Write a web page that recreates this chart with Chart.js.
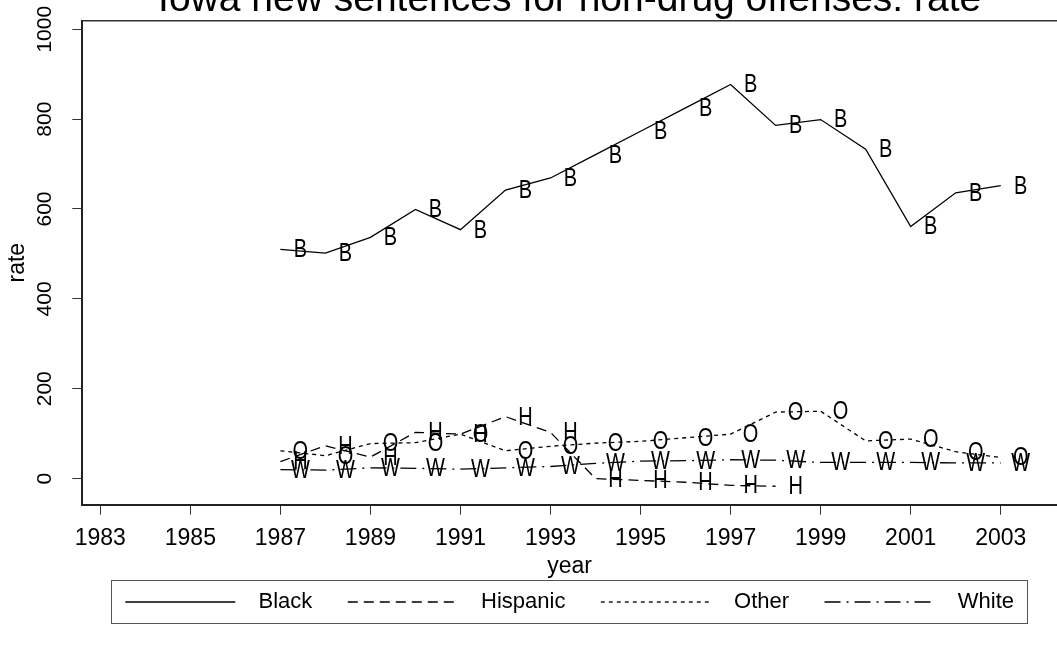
<!DOCTYPE html>
<html>
<head>
<meta charset="utf-8">
<title>Iowa new sentences for non-drug offenses: rate</title>
<script src="https://cdn.jsdelivr.net/npm/chart.js@4.4.1/dist/chart.umd.min.js"></script>
<style>
  html, body { margin: 0; padding: 0; background: #fff; }
</style>
</head>
<body>
<canvas id="rateChart" width="1057" height="648"></canvas>
<script>
// values
const years = [1987, 1988, 1989, 1990, 1991, 1992, 1993, 1994, 1995, 1996, 1997, 1998, 1999, 2000, 2001, 2002, 2003];
const hispYears = [1987, 1988, 1989, 1990, 1991, 1992, 1993, 1994, 1995, 1996, 1997, 1998];
const black = [510, 502, 537, 599, 554, 642, 669, 721, 773, 825, 877, 786, 799, 733, 561, 636, 652];
const hispanic = [38, 73, 48, 103, 99, 138, 103, 0, -4, -8, -15, -17];
const other = [62, 51, 78, 80, 99, 62, 72, 79, 83, 91, 99, 148, 150, 84, 88, 60, 47];
const white = [20, 19, 24, 23, 21, 24, 27, 34, 39, 40, 42, 41, 36, 36, 36, 35, 35];
const xTicks = [1983, 1985, 1987, 1989, 1991, 1993, 1995, 1997, 1999, 2001, 2003];
const yTicks = [0, 200, 400, 600, 800, 1000];
const seriesNames = ["Black", "Hispanic", "Other", "White"];
const markerLetters = ["B", "H", "O", "W"];

const FONT = '"Liberation Sans", Arial, Helvetica, sans-serif';

function pts(xs, ys) {
    return xs.map(function(x, i) { return {x: x, y: ys[i]}; });
}

const dashes = [[], [10, 6], [4, 4], [16, 6, 2, 6]];
const seriesData = [pts(years, black), pts(hispYears, hispanic), pts(years, other), pts(years, white)];

// letters next to every point, like mlabel() in stata (squeezed a bit, stata font is narrow)
const markerLabels = {
    id: 'markerLabels',
    afterDatasetsDraw(chart) {
        const ctx = chart.ctx;
        ctx.save();
        ctx.fillStyle = '#000';
        ctx.font = '25px ' + FONT;
        ctx.textAlign = 'center';
        ctx.textBaseline = 'middle';
        chart.data.datasets.forEach(function(ds, i) {
            const meta = chart.getDatasetMeta(i);
            meta.data.forEach(function(pt) {
                ctx.save();
                ctx.translate(pt.x + 20, pt.y + 1);
                ctx.scale(0.8, 1);
                ctx.fillText(markerLetters[i], 0, 0);
                ctx.restore();
            });
        });
        ctx.restore();
    }
};

// top line of the plot region + box round the legend
const frame = {
    id: 'frame',
    afterDraw(chart) {
        const ctx = chart.ctx;
        const a = chart.chartArea;
        ctx.save();
        ctx.strokeStyle = '#333';
        ctx.lineWidth = 1.5;
        ctx.beginPath();
        ctx.moveTo(a.left, a.top);
        ctx.lineTo(a.right, a.top);
        ctx.stroke();

        const lg = chart.legend;
        const boxes = lg.legendHitBoxes;
        if (boxes && boxes.length) {
            const first = boxes[0];
            const last = boxes[boxes.length - 1];
            const x0 = first.left - 14;
            const x1 = last.left + last.width + 13;
            ctx.strokeStyle = '#555';
            ctx.lineWidth = 1;
            ctx.strokeRect(Math.round(x0) + 0.5, Math.round(lg.top) + 0.5, Math.round(x1 - x0), Math.round(lg.bottom - lg.top));
        }
        ctx.restore();
    }
};

const ctx = document.getElementById('rateChart').getContext('2d');
const rateChart = new Chart(ctx, {
    type: 'line',
    data: {
        datasets: seriesNames.map(function(name, i) {
            return {
                label: name,
                data: seriesData[i],
                borderColor: '#000',
                backgroundColor: '#000',
                borderWidth: 1.3,
                borderDash: dashes[i],
                pointRadius: 0,
                pointHoverRadius: 0,
                tension: 0,
                fill: false
            };
        })
    },
    options: {
        responsive: false,
        animation: false,
        devicePixelRatio: 1,
        layout: { padding: { left: 0, right: 0, top: 0, bottom: 25 } },
        scales: {
            x: {
                type: 'linear',
                min: 1982.6,
                max: 2004.25,
                afterBuildTicks: function(scale) {
                    scale.ticks = xTicks.map(function(v) { return {value: v}; });
                },
                afterFit: function(scale) { scale.height = 75.3; },
                grid: { display: true, drawOnChartArea: false, drawTicks: true, tickLength: 10, color: '#333', lineWidth: 1 },
                border: { display: true, color: '#222', width: 2 },
                ticks: {
                    color: '#000',
                    font: { family: FONT, size: 23, lineHeight: 1 },
                    padding: 12,
                    maxRotation: 0,
                    autoSkip: false,
                    callback: function(v) { return String(v); }
                },
                title: {
                    display: true,
                    text: 'year',
                    color: '#000',
                    font: { family: FONT, size: 23, lineHeight: 1 },
                    padding: { top: 0, bottom: 2 }
                }
            },
            y: {
                type: 'linear',
                min: -58,
                max: 1019,
                afterBuildTicks: function(scale) {
                    scale.ticks = yTicks.map(function(v) { return {value: v}; });
                },
                afterFit: function(scale) { scale.width = 82.3; },
                grid: { display: true, drawOnChartArea: false, drawTicks: true, tickLength: 10, color: '#333', lineWidth: 1 },
                border: { display: true, color: '#222', width: 2 },
                ticks: {
                    color: '#000',
                    font: { family: FONT, size: 21, lineHeight: 1 },
                    padding: 4,
                    minRotation: 90,
                    maxRotation: 90,
                    crossAlign: 'center',
                    autoSkip: false,
                    callback: function(v) { return String(v); }
                },
                title: {
                    display: true,
                    text: 'rate',
                    color: '#000',
                    font: { family: FONT, size: 23, lineHeight: 1 },
                    padding: { top: 6, bottom: 0 }
                }
            }
        },
        plugins: {
            title: {
                display: true,
                fullSize: false,
                text: 'Iowa new sentences for non-drug offenses: rate',
                color: '#000',
                font: { family: FONT, size: 39, weight: 'normal', lineHeight: 1.2 },
                padding: { top: -23, bottom: -3.1 }
            },
            legend: {
                display: true,
                position: 'bottom',
                fullSize: false,
                labels: {
                    color: '#000',
                    font: { family: FONT, size: 22 },
                    usePointStyle: true,
                    pointStyle: 'line',
                    pointStyleWidth: 110,
                    padding: 11,
                    generateLabels: function(chart) {
                        const items = Chart.defaults.plugins.legend.labels.generateLabels(chart);
                        items.forEach(function(it, i) {
                            const ds = chart.data.datasets[it.datasetIndex];
                            it.strokeStyle = ds.borderColor;
                            it.lineDash = ds.borderDash;
                            it.lineWidth = ds.borderWidth;
                            it.pointStyle = 'line';
                            it.text = '  ' + it.text + (i < items.length - 1 ? '    ' : '');
                        });
                        return items;
                    }
                }
            },
            tooltip: { enabled: false }
        }
    },
    plugins: [markerLabels, frame]
});
</script>
</body>
</html>
